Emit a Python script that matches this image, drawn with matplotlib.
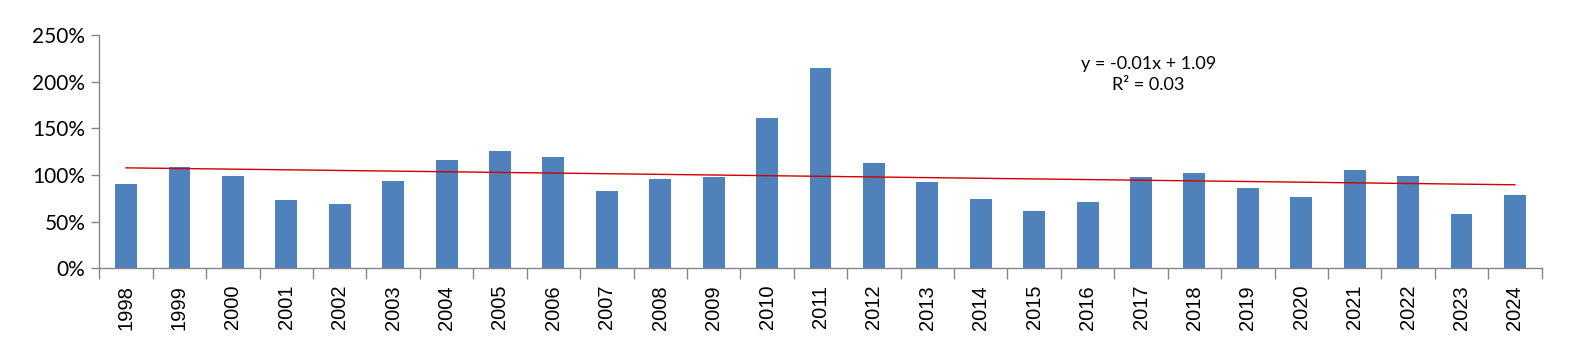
import numpy as np
import matplotlib
matplotlib.use('Agg')
import matplotlib.pyplot as plt
from matplotlib.ticker import FuncFormatter, FixedLocator

# Data (ratio, 1.0 = 100%)
years = [str(y) for y in range(1998, 2025)]
values = [0.903, 1.085, 0.989, 0.732, 0.689, 0.935, 1.161, 1.257, 1.193,
          0.828, 0.957, 0.978, 1.610, 2.146, 1.128, 0.925, 0.743, 0.614,
          0.710, 0.978, 1.021, 0.860, 0.764, 1.054, 0.989, 0.582, 0.785]
y_ticks = [0, 0.5, 1.0, 1.5, 2.0, 2.5]

fig = plt.figure(figsize=(15.82, 3.56), dpi=100)
ax = fig.add_axes([0.0628, 0.2463, 0.9117, 0.6554])

x = np.arange(len(years))
ax.bar(x, values, width=0.41, color='#4F81BD', zorder=2)

# linear trend line (Excel style, x = 1..n)
coef = np.polyfit(x + 1, values, 1)
trend = np.polyval(coef, x + 1)
r2 = 1 - np.sum((np.array(values) - trend) ** 2) / np.sum((np.array(values) - np.mean(values)) ** 2)
ax.plot(x, trend, color='#D00000', lw=1.0, zorder=3)

ax.text(0.7275, 0.83, 'y = -0.01x + 1.09\nR\u00b2 = %.2f' % r2, transform=ax.transAxes,
        ha='center', va='center', fontsize=13, family='Lato', linespacing=1.4)

ax.set_xlim(-0.5, len(years) - 0.5)
ax.set_ylim(0, 2.5)
ax.set_yticks(y_ticks)
ax.yaxis.set_major_formatter(FuncFormatter(lambda v, p: '%d%%' % round(v * 100)))
for lab in ax.get_yticklabels():
    lab.set_family('Lato')
    lab.set_fontsize(15)

ax.set_xticks(x)
ax.set_xticklabels(years, rotation=90, fontsize=14.5, family='Liberation Sans')
ax.xaxis.set_minor_locator(FixedLocator(np.arange(-0.5, len(years), 1.0)))
ax.tick_params(axis='x', which='major', length=0, pad=12)
ax.tick_params(axis='x', which='minor', length=8, color='#868686', width=1)
ax.tick_params(axis='y', length=6, color='#868686', width=1, pad=4)

for s in ['top', 'right']:
    ax.spines[s].set_visible(False)
for s in ['left', 'bottom']:
    ax.spines[s].set_color('#868686')
    ax.spines[s].set_linewidth(1)

fig.savefig('out.png', dpi=100)
